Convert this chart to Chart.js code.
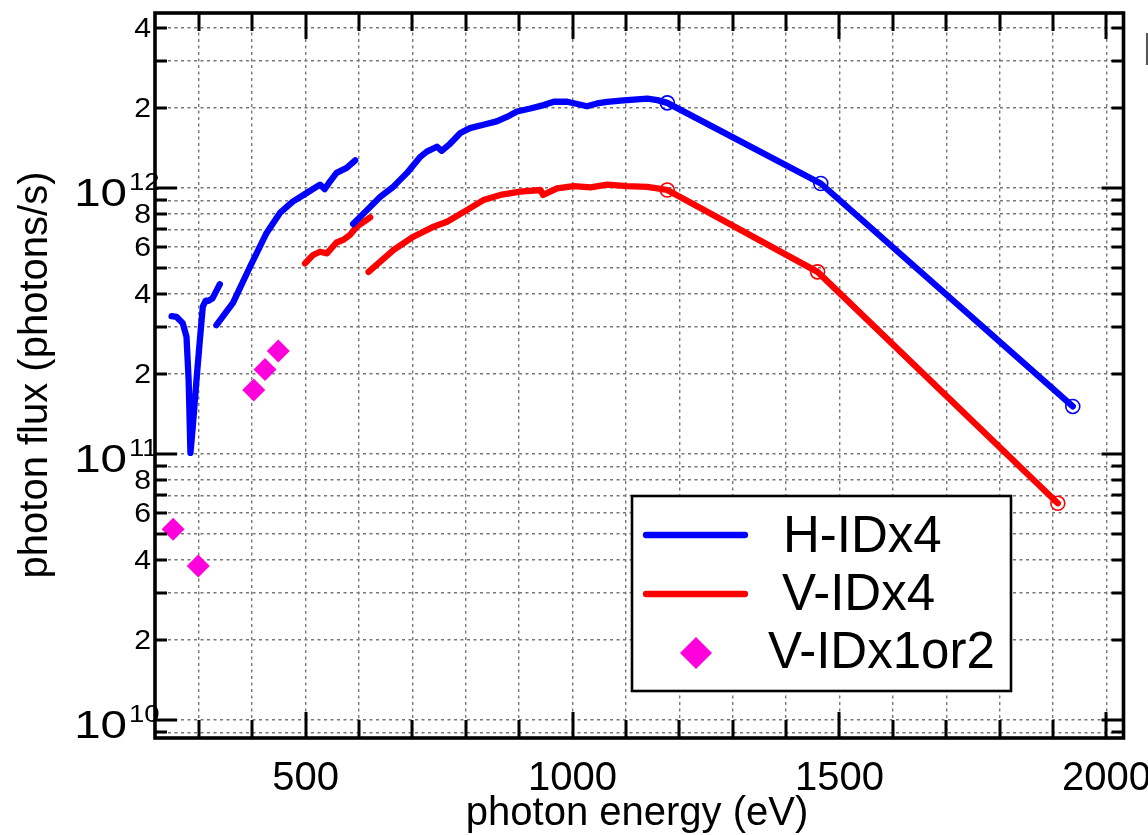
<!DOCTYPE html>
<html><head><meta charset="utf-8">
<script src="https://cdn.jsdelivr.net/npm/chart.js@4.4.0/dist/chart.umd.min.js"></script>
<style>html,body{margin:0;padding:0;background:#fff;overflow:hidden}#wrap{width:1148px;height:835px;position:relative}</style>
</head><body><div id="wrap"><canvas id="c" width="1148" height="835"></canvas></div>
<script>
// ---- data (photon energy in eV, photon flux in photons/s) ----
const hEdgeEnergy = [249, 258, 270, 277, 281, 284.4, 288.7, 295.7, 302, 307.5, 313, 318.8, 325.7, 332, 339.4];
const hEdgeFlux   = [3.30e11, 3.28e11, 3.10e11, 2.76e11, 1.90e11, 1.01e11, 1.26e11, 1.90e11, 2.68e11, 3.58e11, 3.77e11, 3.77e11, 3.85e11, 4.07e11, 4.35e11];

const hLowEnergy = [333, 364, 396, 427, 452, 476, 502, 527, 536, 546, 558, 577, 593];
const hLowFlux   = [3.05e11, 3.70e11, 5.06e11, 6.78e11, 8.06e11, 8.89e11, 9.58e11, 1.03e12, 9.91e11, 1.06e12, 1.14e12, 1.19e12, 1.27e12];

const hHighEnergy = [589, 615, 640, 664, 690, 715, 727, 746, 755, 771, 790, 808, 833, 858, 877, 896, 921, 946, 965, 990, 1009, 1027, 1046, 1065, 1090, 1115, 1140, 1159, 1177.5, 1465, 1937];
const hHighFlux   = [7.32e11, 8.26e11, 9.27e11, 1.01e12, 1.14e12, 1.31e12, 1.37e12, 1.43e12, 1.38e12, 1.47e12, 1.61e12, 1.68e12, 1.73e12, 1.78e12, 1.85e12, 1.94e12, 1.99e12, 2.05e12, 2.11e12, 2.11e12, 2.07e12, 2.03e12, 2.08e12, 2.11e12, 2.13e12, 2.15e12, 2.17e12, 2.14e12, 2.09e12, 1.04e12, 1.51e11];
const hMarkerCount = 3;

const vLowEnergy = [499, 514, 527, 540, 558, 571, 583, 596, 621];
const vLowFlux   = [5.21e11, 5.60e11, 5.76e11, 5.68e11, 6.24e11, 6.39e11, 6.66e11, 7.16e11, 7.76e11];

const vHighEnergy = [618, 665, 702, 740, 765, 802, 833, 865, 902, 940, 945, 971, 1002, 1034, 1065, 1102, 1140, 1159, 1177.5, 1459, 1909];
const vHighFlux   = [4.84e11, 5.85e11, 6.56e11, 7.16e11, 7.47e11, 8.26e11, 9.01e11, 9.42e11, 9.69e11, 9.83e11, 9.42e11, 9.97e11, 1.017e12, 1.006e12, 1.03e12, 1.017e12, 1.01e12, 9.97e11, 9.83e11, 4.84e11, 6.53e10];
const vMarkerCount = 3;

const v12Energy = [252, 299, 403, 424, 449];
const v12Flux   = [5.21e10, 3.79e10, 1.74e11, 2.08e11, 2.44e11];

const legendLabels = ['H-IDx4', 'V-IDx4', 'V-IDx1or2'];
const xTickValues = [300,400,500,600,700,800,900,1000,1100,1200,1300,1400,1500,1600,1700,1800,1900,2000];
const xTickLabels = {500:'500', 1000:'1000', 1500:'1500', 2000:'2000'};
const yDecades = [9, 10, 11, 12];
const yLabelMantissas = [2, 4, 6, 8];
const xTitle = 'photon energy (eV)';
const yTitle = 'photon flux (photons/s)';

// ---- helpers ----
const pts = (xs, ys) => xs.map((x, i) => ({x, y: ys[i]}));
const markerRadii = (n, k, r) => Array.from({length: n}, (_, i) => i >= n - k ? r : 0);
const BLUE = '#0000ff', RED = '#ff0000', PINK = '#ff00dd';
const X_MIN = 218, X_MAX = 2032, Y_MIN = 8.56e9, Y_MAX = 4.55e12;

function lineDs(data, color, radii) {
  return {
    data, borderColor: color, backgroundColor: color, borderWidth: 6.3,
    borderCapStyle: 'round', borderJoinStyle: 'round', tension: 0,
    pointRadius: radii || 0, pointBorderColor: color, pointBackgroundColor: 'rgba(0,0,0,0)',
    pointBorderWidth: 1.6, pointHoverRadius: 0, showLine: true, fill: false
  };
}

const yTickVals = [];
yDecades.forEach(d => { for (let m = 1; m <= 9; m++) { const v = m * Math.pow(10, d); if (v >= Y_MIN && v <= Y_MAX) yTickVals.push(v); } });

const framePlugin = {
  id: 'frame',
  afterDraw(chart) {
    const ctx = chart.ctx, a = chart.chartArea;
    const xs = chart.scales.x, ys = chart.scales.y;
    ctx.save();
    ctx.strokeStyle = '#000';
    ctx.lineCap = 'butt';
    // inward ticks
    ctx.lineWidth = 3;
    xTickValues.forEach(v => {
      const px = Math.round(xs.getPixelForValue(v));
      const len = (v % 500 === 0) ? 26 : 18;
      ctx.beginPath();
      ctx.moveTo(px, a.bottom); ctx.lineTo(px, a.bottom - len);
      ctx.moveTo(px, a.top); ctx.lineTo(px, a.top + len);
      ctx.stroke();
    });
    yTickVals.forEach(v => {
      const py = Math.round(ys.getPixelForValue(v));
      const m = Math.round(v / Math.pow(10, Math.floor(Math.log10(v) + 1e-9)));
      const len = (m === 1) ? 22 : 12;
      ctx.beginPath();
      ctx.moveTo(a.left, py); ctx.lineTo(a.left + len, py);
      ctx.moveTo(a.right, py); ctx.lineTo(a.right - len, py);
      ctx.stroke();
    });
    // frame
    ctx.lineWidth = 3.6;
    ctx.strokeRect(a.left, a.top, a.right - a.left, a.bottom - a.top);

    // y labels
    ctx.fillStyle = '#000';
    yTickVals.forEach(v => {
      if (v < 1e10) return;
      const py = ys.getPixelForValue(v);
      const d = Math.floor(Math.log10(v) + 1e-9);
      const m = Math.round(v / Math.pow(10, d));
      if (m === 1) {
        ctx.font = '38px "Liberation Sans", Arial, sans-serif';
        ctx.textAlign = 'right'; ctx.textBaseline = 'alphabetic';
        ctx.save(); ctx.translate(127, py + 18); ctx.scale(1.25, 1);
        ctx.fillText('10', 0, 0); ctx.restore();
        ctx.font = '24px "Liberation Sans", Arial, sans-serif';
        ctx.textAlign = 'left';
        ctx.save(); ctx.translate(129, py + 2); ctx.scale(1.15, 1);
        ctx.fillText(String(d), 0, 0); ctx.restore();
      } else if (yLabelMantissas.includes(m)) {
        ctx.font = '28px "Liberation Sans", Arial, sans-serif';
        ctx.textAlign = 'right'; ctx.textBaseline = 'middle';
        ctx.save(); ctx.translate(151, py + 1); ctx.scale(1.08, 1);
        ctx.fillText(String(m), 0, 0); ctx.restore();
      }
    });
    // x labels
    ctx.font = '40px "Liberation Sans Narrow", "Arial Narrow", sans-serif';
    ctx.textAlign = 'center'; ctx.textBaseline = 'alphabetic';
    xTickValues.forEach(v => {
      if (xTickLabels[v]) ctx.fillText(xTickLabels[v], xs.getPixelForValue(v), 790);
    });
    // titles
    ctx.font = '40px "Liberation Sans Narrow", "Arial Narrow", sans-serif';
    ctx.fillText(xTitle, 637, 825);
    ctx.save();
    ctx.translate(47, 375); ctx.rotate(-Math.PI / 2);
    ctx.textAlign = 'center'; ctx.textBaseline = 'alphabetic';
    ctx.fillText(yTitle, 0, 0);
    ctx.restore();

    // legend
    ctx.fillStyle = '#fff';
    ctx.fillRect(632, 496, 379, 195);
    ctx.lineWidth = 2.6; ctx.strokeStyle = '#000';
    ctx.strokeRect(632, 496, 379, 195);
    ctx.lineCap = 'round'; ctx.lineWidth = 6.3;
    ctx.strokeStyle = BLUE; ctx.beginPath(); ctx.moveTo(646, 535); ctx.lineTo(745, 535); ctx.stroke();
    ctx.strokeStyle = RED; ctx.beginPath(); ctx.moveTo(646, 594); ctx.lineTo(745, 594); ctx.stroke();
    ctx.fillStyle = PINK; ctx.beginPath();
    ctx.moveTo(696, 637); ctx.lineTo(712, 653); ctx.lineTo(696, 669); ctx.lineTo(680, 653); ctx.closePath(); ctx.fill();
    ctx.fillStyle = '#000';
    ctx.font = '51px "Liberation Sans", Arial, sans-serif';
    ctx.textAlign = 'left'; ctx.textBaseline = 'alphabetic';
    ctx.fillText(legendLabels[0], 783, 552);
    ctx.fillText(legendLabels[1], 782, 610);
    ctx.fillText(legendLabels[2], 768, 668);
    // clipped letter at the right edge
    ctx.fillStyle = '#555';
    ctx.font = '44px "Liberation Sans", Arial, sans-serif';
    ctx.fillText('b', 1143, 65);
    ctx.restore();
  }
};

new Chart(document.getElementById('c'), {
  type: 'line',
  data: {
    datasets: [
      lineDs(pts(hEdgeEnergy, hEdgeFlux), BLUE),
      lineDs(pts(hLowEnergy, hLowFlux), BLUE),
      lineDs(pts(hHighEnergy, hHighFlux), BLUE, markerRadii(hHighEnergy.length, hMarkerCount, 7)),
      lineDs(pts(vLowEnergy, vLowFlux), RED),
      lineDs(pts(vHighEnergy, vHighFlux), RED, markerRadii(vHighEnergy.length, vMarkerCount, 7)),
      {
        data: pts(v12Energy, v12Flux), showLine: false, pointStyle: 'rectRot', pointRadius: 11.5,
        pointBackgroundColor: PINK, pointBorderColor: PINK, pointBorderWidth: 0, pointHoverRadius: 0
      }
    ]
  },
  options: {
    responsive: false, animation: false, devicePixelRatio: 1,
    layout: {padding: {left: 155, right: 24.5, top: 13, bottom: 97}},
    plugins: {legend: {display: false}, tooltip: {enabled: false}},
    scales: {
      x: {
        type: 'linear', min: X_MIN, max: X_MAX,
        afterBuildTicks: s => { s.ticks = xTickValues.map(v => ({value: v})); },
        ticks: {display: false},
        grid: {color: '#777777', lineWidth: 1.4, drawTicks: false},
        border: {display: false, dash: [3, 3.5]}
      },
      y: {
        type: 'logarithmic', min: Y_MIN, max: Y_MAX,
        afterBuildTicks: s => { s.ticks = yTickVals.map(v => ({value: v})); },
        ticks: {display: false},
        grid: {color: '#777777', lineWidth: 1.4, drawTicks: false},
        border: {display: false, dash: [3, 3.5]}
      }
    }
  },
  plugins: [framePlugin]
});
</script></body></html>
